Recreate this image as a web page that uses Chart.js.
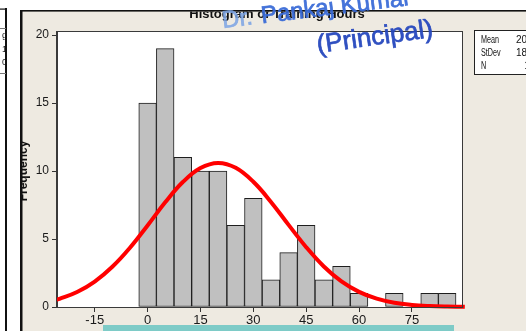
<!DOCTYPE html>
<html>
<head>
<meta charset="utf-8">
<script src="https://cdn.jsdelivr.net/npm/chart.js@4/dist/chart.umd.min.js"></script>
<style>
  html, body { margin: 0; padding: 0; background: #fff; overflow: hidden; }
  canvas { display: block; }
</style>
</head>
<body>
<canvas id="c" width="526" height="331"></canvas>
<script>
// Histogram bins (centre of each 5-hour bin) and their frequencies
const binCenters = [0, 5, 10, 15, 20, 25, 30, 35, 40, 45, 50, 55, 60, 65, 70, 75, 80, 85];
const counts     = [15, 19, 11, 10, 10, 6, 8, 2, 4, 6, 2, 3, 1, 0, 1, 0, 1, 1];

// Fitted normal curve, sampled along the x axis
const curveX = [-26, -25, -20, -15, -10, -5, 0, 5, 10, 15, 20, 25, 30, 35, 40, 45, 50, 55, 60, 65, 70, 75, 80, 85, 90];
const curveY = [0.53, 0.60, 1.10, 1.87, 2.96, 4.36, 6.00, 7.70, 9.19, 10.22, 10.60, 10.24, 9.21, 7.73, 6.04, 4.40, 2.98, 1.88, 1.11, 0.61, 0.31, 0.15, 0.07, 0.03, 0.01];

const xTicks = [-15, 0, 15, 30, 45, 60, 75];
const yTicks = [0, 5, 10, 15, 20];

const chartTitle = 'Histogram of Training Hours';
const yTitle = 'Frequency';
const statNames  = ['Mean', 'StDev', 'N'];
const statValues = ['20.05', '18.84', '100'];
const stampLine1 = ['Dr.', ' Pankaj Kumar'];
const stampLine2 = '(Principal)';

const BEIGE = '#eeeae1';
const FONT = '"Liberation Sans", Arial, sans-serif';

function stampText(ctx, text, x, y, color) {
  ctx.fillStyle = color;
  ctx.strokeStyle = color;
  ctx.lineWidth = 0.7;
  ctx.fillText(text, x, y);
  ctx.strokeText(text, x, y);
}

const decor = {
  id: 'decor',
  beforeDraw(chart) {
    const { ctx, chartArea: a } = chart;
    ctx.save();
    ctx.fillStyle = '#ffffff';
    ctx.fillRect(0, 0, 526, 331);
    ctx.fillStyle = BEIGE;
    ctx.fillRect(21, 11, 505, 320);
    ctx.fillStyle = '#ffffff';
    ctx.fillRect(a.left, a.top, a.right - a.left, a.bottom - a.top);
    ctx.restore();
  },
  afterDraw(chart) {
    const { ctx, chartArea: a } = chart;
    ctx.save();

    // plot frame
    ctx.strokeStyle = '#3a3a3a';
    ctx.lineWidth = 1;
    ctx.strokeRect(Math.round(a.left) - 0.5, Math.round(a.top) + 0.5, Math.round(a.right - a.left) + 1, Math.round(a.bottom - a.top));

    // title, partly hidden under the window edge
    ctx.save();
    ctx.beginPath();
    ctx.rect(21, 11.5, 505, 30);
    ctx.clip();
    ctx.fillStyle = '#111';
    ctx.font = 'bold 13px ' + FONT;
    ctx.textAlign = 'center';
    ctx.textBaseline = 'alphabetic';
    ctx.fillText(chartTitle, 277, 17.5);
    ctx.restore();

    // y axis title, its left side tucked under the window border
    ctx.save();
    ctx.beginPath();
    ctx.rect(21, 0, 40, 331);
    ctx.clip();
    ctx.translate(27, 171);
    ctx.rotate(-Math.PI / 2);
    ctx.fillStyle = '#111';
    ctx.font = 'bold 12px ' + FONT;
    ctx.textAlign = 'center';
    ctx.textBaseline = 'alphabetic';
    ctx.fillText(yTitle, 0, 0);
    ctx.restore();

    // summary box
    ctx.fillStyle = '#ffffff';
    ctx.fillRect(474.5, 30.5, 70, 44);
    ctx.strokeStyle = '#222';
    ctx.strokeRect(474.5, 30.5, 70, 44);
    ctx.fillStyle = '#111';
    ctx.font = '10px ' + FONT;
    ctx.textBaseline = 'middle';
    statNames.forEach((n, i) => {
      const y = 40 + i * 13.3;
      ctx.save();
      ctx.translate(481, y);
      ctx.scale(0.72, 1);
      ctx.textAlign = 'left';
      ctx.fillText(n, 0, 0);
      ctx.restore();
      ctx.textAlign = 'right';
      ctx.fillText(statValues[i], 541, y);
    });

    // window frames
    ctx.fillStyle = '#111';
    ctx.fillRect(20, 10, 2.5, 321);
    ctx.fillRect(20, 10, 506, 1.6);
    ctx.fillRect(5, 8, 2, 323);
    ctx.fillRect(0, 8.5, 6, 1.2);
    ctx.fillStyle = '#777';
    ctx.fillRect(0, 28, 6, 1);
    ctx.fillRect(0, 73, 6, 1);
    ctx.save();
    ctx.beginPath();
    ctx.rect(0, 0, 5, 331);
    ctx.clip();
    ctx.fillStyle = '#222';
    ctx.font = '9px ' + FONT;
    ctx.textAlign = 'right';
    ctx.textBaseline = 'middle';
    ctx.fillText('g', 7, 36);
    ctx.fillText('1', 7, 50);
    ctx.fillText('0', 7, 63);
    ctx.restore();

    // selection strip below the axis
    ctx.fillStyle = '#7ecbc7';
    ctx.fillRect(103, 325, 351, 6);

    // stamp
    ctx.save();
    ctx.translate(223, 28);
    ctx.rotate(-7 * Math.PI / 180);
    ctx.font = '24px ' + FONT;
    ctx.textAlign = 'left';
    ctx.textBaseline = 'alphabetic';
    stampText(ctx, stampLine1[0], 0, 0, 'rgba(125,165,228,0.85)');
    const w1 = ctx.measureText(stampLine1[0]).width;
    stampText(ctx, stampLine1[1], w1 + 2, 0, 'rgba(55,105,215,0.92)');
    ctx.restore();

    ctx.save();
    ctx.translate(318, 53);
    ctx.rotate(-8 * Math.PI / 180);
    ctx.font = '26px ' + FONT;
    ctx.textAlign = 'left';
    ctx.textBaseline = 'alphabetic';
    stampText(ctx, stampLine2, 0, 0, 'rgba(38,72,190,0.95)');
    ctx.restore();

    ctx.restore();
  }
};

new Chart(document.getElementById('c'), {
  data: {
    datasets: [
      {
        type: 'line',
        order: 0,
        data: curveX.map((x, i) => ({ x, y: curveY[i] })),
        borderColor: '#ff0000',
        borderWidth: 4,
        pointRadius: 0,
        tension: 0.4,
        fill: false,
        clip: { left: 0, top: 0, right: 6, bottom: 6 }
      },
      {
        type: 'bar',
        order: 1,
        data: binCenters.map((x, i) => ({ x, y: counts[i] })),
        backgroundColor: '#c0c0c0',
        borderColor: '#1e1e1e',
        borderWidth: 1,
        borderSkipped: false,
        barPercentage: 1,
        categoryPercentage: 1
      }
    ]
  },
  options: {
    responsive: false,
    animation: false,
    devicePixelRatio: 1,
    layout: { padding: { left: 0, top: 31, right: 64, bottom: 0 } },
    plugins: { legend: { display: false }, tooltip: { enabled: false }, title: { display: false } },
    scales: {
      x: {
        type: 'linear',
        offset: false,
        min: -25.7,
        max: 89.2,
        afterBuildTicks(s) { s.ticks = xTicks.map(v => ({ value: v })); },
        afterFit(s) { s.height = 24; },
        grid: { display: true, offset: false, drawOnChartArea: false, drawTicks: true, tickLength: 5, tickColor: '#333' },
        border: { display: true, color: '#3a3a3a' },
        ticks: { font: { family: FONT, size: 13 }, color: '#1a1a1a', padding: 1, maxRotation: 0, autoSkip: false }
      },
      y: {
        type: 'linear',
        min: 0,
        max: 20.3,
        afterBuildTicks(s) { s.ticks = yTicks.map(v => ({ value: v })); },
        afterFit(s) { s.width = 57; },
        grid: { display: true, drawOnChartArea: false, drawTicks: true, tickLength: 5, tickColor: '#333' },
        border: { display: true, color: '#3a3a3a' },
        ticks: { font: { family: FONT, size: 12 }, color: '#1a1a1a', padding: 3 }
      }
    }
  },
  plugins: [decor]
});
</script>
</body>
</html>
